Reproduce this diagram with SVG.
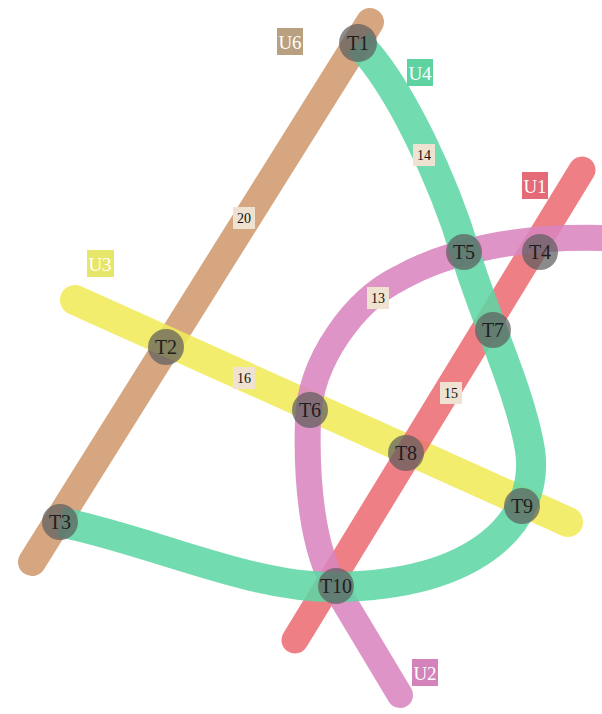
<svg xmlns="http://www.w3.org/2000/svg" width="602" height="714" viewBox="0 0 602 714">
<style>
.line{fill:none;stroke-linecap:round;stroke-linejoin:round;opacity:0.88}
.node circle{fill:#5e5e5e;opacity:0.72}
.node text{font-family:"Liberation Serif",serif;font-size:20px;fill:#1e1e1e;text-anchor:middle;dominant-baseline:central}
.elab rect{fill:#efe2d0}
.elab text{font-family:"Liberation Serif",serif;font-size:14px;fill:#111;text-anchor:middle;dominant-baseline:central}
.llab text{font-family:"Liberation Serif",serif;font-size:19px;fill:#fff;text-anchor:middle;dominant-baseline:central}
</style>
<rect width="602" height="714" fill="#fff"/>
<g id="connectors">
<path id="U6" class="line" d="M370,22 L32,562" stroke="#cf9a6e" stroke-width="28"/>
<path id="U3" class="line" d="M75,300 L568,522" stroke="#f0ea58" stroke-width="30"/>
<path id="U1" class="line" d="M582,170 L295,640" stroke="#ec6d74" stroke-width="27"/>
<path id="U2" class="line" d="M602,238 C520,236 450,250 400,278 C355,300 310,360 308,420 C306,480 312,550 337,590 L400,695" stroke="#d985bf" stroke-width="26"/>
<path id="U4" class="line" style="stroke-linecap:butt" d="M358,43 C400,85 445,185 465,252 S520,390 530,450 C540,520 480,585 335,587 C250,588 150,540 60,522" stroke="#5fd6a5" stroke-width="30"/>
</g>
<g id="line-labels" class="llab">
<g id="label-U6"><rect x="277" y="28" width="26" height="27" fill="#b9a080"/><text x="290" y="42">U6</text></g>
<g id="label-U4"><rect x="407" y="59" width="26" height="27" fill="#5fd2a2"/><text x="420" y="73">U4</text></g>
<g id="label-U1"><rect x="522" y="172" width="26" height="27" fill="#e46a78"/><text x="535" y="186">U1</text></g>
<g id="label-U3"><rect x="87" y="250" width="27" height="27" fill="#e6e66a"/><text x="100" y="264">U3</text></g>
<g id="label-U2"><rect x="412" y="659" width="26" height="27" fill="#d482ba"/><text x="425" y="673">U2</text></g>
</g>
<g id="edge-labels" class="elab">
<g><rect x="413" y="144" width="22" height="22"/><text x="424" y="155">14</text></g>
<g><rect x="233" y="207" width="22" height="22"/><text x="244" y="218">20</text></g>
<g><rect x="367" y="287" width="22" height="22"/><text x="378" y="298">13</text></g>
<g><rect x="233" y="367" width="22" height="22"/><text x="244" y="378">16</text></g>
<g><rect x="440" y="382" width="22" height="22"/><text x="451" y="393">15</text></g>
</g>
<g id="T1" class="node"><circle cx="358" cy="43" r="19"/><text x="358" y="43">T1</text></g>
<g id="T2" class="node"><circle cx="166" cy="347" r="18"/><text x="166" y="347">T2</text></g>
<g id="T3" class="node"><circle cx="60" cy="522" r="18"/><text x="60" y="522">T3</text></g>
<g id="T4" class="node"><circle cx="540" cy="252" r="18"/><text x="540" y="252">T4</text></g>
<g id="T5" class="node"><circle cx="464" cy="252" r="18"/><text x="464" y="252">T5</text></g>
<g id="T6" class="node"><circle cx="310" cy="410" r="18"/><text x="310" y="410">T6</text></g>
<g id="T7" class="node"><circle cx="493" cy="330" r="18"/><text x="493" y="330">T7</text></g>
<g id="T8" class="node"><circle cx="406" cy="453" r="18"/><text x="406" y="453">T8</text></g>
<g id="T9" class="node"><circle cx="522" cy="506" r="18"/><text x="522" y="506">T9</text></g>
<g id="T10" class="node"><circle cx="336" cy="586" r="18"/><text x="336" y="586">T10</text></g>
</svg>
